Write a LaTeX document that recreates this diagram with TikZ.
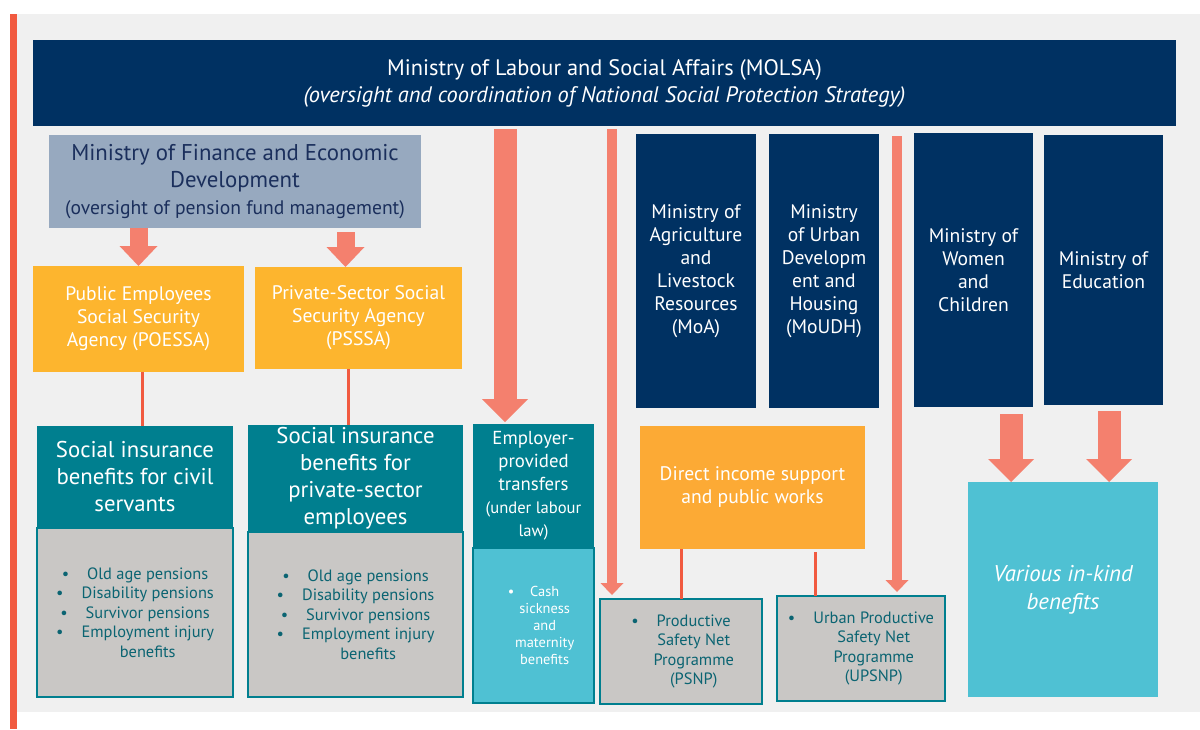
\documentclass[tikz,border=0pt]{standalone}
\usepackage{fontspec}
\setmainfont{PT Sans}
\usetikzlibrary{arrows.meta,calc}

\definecolor{navy}{HTML}{003162}
\definecolor{mofgray}{HTML}{97A9BF}
\definecolor{mofnavy}{HTML}{1B2F5C}
\definecolor{agencyyel}{HTML}{FDB52E}
\definecolor{directorg}{HTML}{FCAA35}
\definecolor{tealhead}{HTML}{007F8F}
\definecolor{listgray}{HTML}{C9C7C5}
\definecolor{listteal}{HTML}{0B6472}
\definecolor{lightteal}{HTML}{4FC1D3}
\definecolor{salmon}{HTML}{F4806E}
\definecolor{redline}{HTML}{F15A40}
\definecolor{panelgray}{HTML}{F0F0F0}

\newcommand\lpoint[1]{\textbullet\hspace{1.1em}#1}
\newcommand\lcont[1]{\hphantom{\textbullet\hspace{1.1em}}#1}

\tikzset{
  wh/.style 2 args={minimum width=#1*0.5pt, minimum height=#2*0.5pt},
  box/.style={inner sep=0pt, outer sep=0pt, align=center},
  navybox/.style={box, fill=navy, text=white, font=\fontsize{9.8}{11.5}\selectfont},
  agency/.style={box, fill=agencyyel, text=white, font=\fontsize{9.8}{11.5}\selectfont},
  benhead/.style={box, fill=tealhead, text=white, font=\fontsize{11.4}{13.5}\selectfont},
  benlist/.style={box, fill=listgray, draw=tealhead, line width=1pt, text=listteal, font=\fontsize{8.2}{9.75}\selectfont},
  fatarrow/.style={salmon, line width=11.5pt, -{Triangle[width=23pt,length=11.5pt,line width=0pt]}},
  midarrow/.style={salmon, line width=9pt, -{Triangle[width=19pt,length=10pt,line width=0pt]}},
  thinarrow/.style={salmon, line width=5pt, -{Triangle[width=11.5pt,length=6pt,line width=0pt]}},
  feed/.style={redline, line width=1.5pt},
}

\begin{document}
\begin{tikzpicture}[x=0.5pt,y=-0.5pt]
  \useasboundingbox (0,0) rectangle (1200,729);
  \fill[panelgray] (17,14) rectangle (1200,712);
  \fill[redline] (10,14) rectangle (17,729);

  \node[box, fill=navy, text=white, wh={1143}{86}, font=\fontsize{11.2}{13.5}\selectfont] (MOLSA) at (604.5,83) {Ministry of Labour and Social Affairs (MOLSA)\\\textit{(oversight and coordination of National Social Protection Strategy)}};
  \node[box, fill=mofgray, text=mofnavy, wh={372}{93}, font=\fontsize{11.4}{13.5}\selectfont] (MoF) at (235,181.5) {Ministry of Finance and Economic\\Development\\{\fontsize{9.8}{13.5}\selectfont(oversight of pension fund management)}};

  \node[agency, wh={211}{106}] (POESSA) at (138.5,319) {Public Employees\\Social Security\\Agency (POESSA)};
  \node[agency, wh={207}{102}] (PSSSA) at (358.5,318) {Private-Sector Social\\Security Agency\\(PSSSA)};

  \node[benhead, wh={196}{102}] (civilHead) at (135,477) {Social insurance\\benefits for civil\\servants};
  \node[benlist, wh={196}{169}] (civilList) at (135,612.5) {\lpoint{Old age pensions}\\\lpoint{Disability pensions}\\\lpoint{Survivor pensions}\\\lpoint{Employment injury}\\\lcont{benefits}};
  \node[benhead, wh={215}{107}] (privHead) at (355.5,478.5) {Social insurance\\benefits for\\private-sector\\employees};
  \node[benlist, wh={215}{165}] (privList) at (355.5,614.5) {\lpoint{Old age pensions}\\\lpoint{Disability pensions}\\\lpoint{Survivor pensions}\\\lpoint{Employment injury}\\\lcont{benefits}};

  \node[benhead, wh={121}{124}, font=\fontsize{9.4}{11.5}\selectfont] (empHead) at (533.5,486) {Employer-\\provided\\transfers\\{\fontsize{8.3}{10}\selectfont(under labour}\\{\fontsize{8.3}{10}\selectfont law)}};
  \node[benlist, fill=lightteal, text=white, wh={121}{155}, font=\fontsize{7.2}{8.5}\selectfont] (empList) at (533.5,625.5) {\lpoint{Cash}\\\lcont{sickness}\\\lcont{and}\\\lcont{maternity}\\\lcont{benefits}};

  \node[navybox, wh={120}{274}] (MoA) at (696,271) {Ministry of\\Agriculture\\and\\Livestock\\Resources\\(MoA)};
  \node[navybox, wh={110}{274}] (MoUDH) at (824,271) {Ministry\\of Urban\\Developm\\ent and\\Housing\\(MoUDH)};
  \node[navybox, wh={119}{274}] (MoWC) at (973.5,270) {Ministry of\\Women\\and\\Children};
  \node[navybox, wh={119}{270}] (MoE) at (1103.5,270) {Ministry of\\Education};

  \node[box, fill=directorg, text=white, wh={225}{123}, font=\fontsize{9.8}{11.5}\selectfont] (direct) at (752.5,487.5) {Direct income support\\and public works};
  \node[benlist, wh={162}{105}] (PSNP) at (681,651.5) {\lpoint{Productive}\\\lcont{Safety Net}\\\lcont{Programme}\\\lcont{(PSNP)}};
  \node[benlist, wh={168}{105}] (UPSNP) at (861,648.5) {\lpoint{Urban Productive}\\\lcont{Safety Net}\\\lcont{Programme}\\\lcont{(UPSNP)}};
  \node[box, fill=lightteal, text=white, wh={190}{215}, font=\fontsize{11.4}{14}\selectfont\itshape] (inkind) at (1063,589.5) {Various in-kind\\benefits};

  \draw[midarrow] (POESSA.north |- MoF.south) -- (POESSA.north);
  \draw[midarrow] ($(PSSSA.north |- MoF.south)+(-13,4)$) -- ($(PSSSA.north)+(-13,0)$);
  \draw[feed] ($(POESSA.south)+(3.5,0)$) -- ($(civilHead.north -| POESSA.south)+(3.5,0)$);
  \draw[feed] ($(PSSSA.south)+(-10.5,0)$) -- ($(privHead.north -| PSSSA.south)+(-10.5,0)$);

  \draw[fatarrow] ($(MOLSA.south -| empHead.north)+(-28.5,3)$) -- ($(empHead.north)+(-28.5,-2)$);
  \draw[thinarrow] ($(MOLSA.south -| PSNP.north west)+(12,3)$) -- ($(PSNP.north west)+(12,-4)$);
  \draw[thinarrow] ($(MOLSA.south -| UPSNP.north east)+(-48,10)$) -- ($(UPSNP.north east)+(-48,-4)$);

  \draw[feed] (direct.south -| PSNP.north) -- (PSNP.north);
  \draw[feed] ($(direct.south -| UPSNP.north)+(-46,3)$) -- ($(UPSNP.north)+(-46,0)$);

  \draw[fatarrow] ($(MoWC.south -| inkind.north)+(-52,7)$) -- ($(inkind.north)+(-52,0)$);
  \draw[fatarrow] ($(MoE.south -| inkind.north)+(46,6)$) -- ($(inkind.north)+(46,0)$);
\end{tikzpicture}
\end{document}
